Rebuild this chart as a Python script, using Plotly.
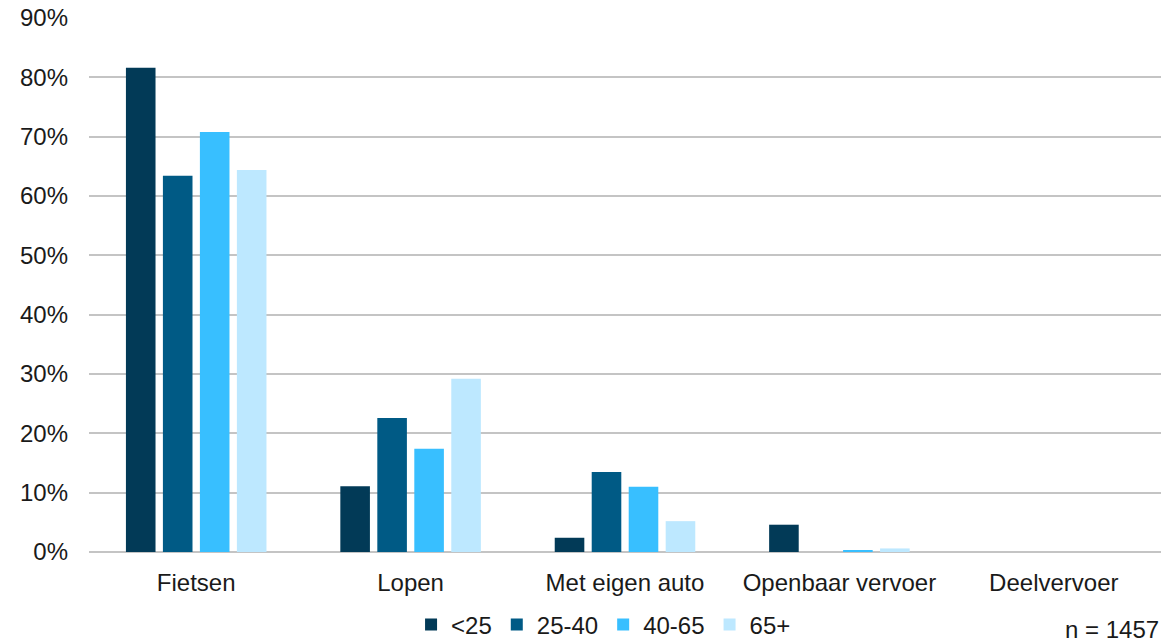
import plotly.graph_objects as go

categories = ["Fietsen", "Lopen", "Met eigen auto", "Openbaar vervoer", "Deelvervoer"]
age_groups = ["<25", "25-40", "40-65", "65+"]
share_lt25 = [0.816, 0.111, 0.024, 0.046, 0.0]
share_25_40 = [0.634, 0.226, 0.135, 0.0, 0.0]
share_40_65 = [0.708, 0.174, 0.110, 0.003, 0.0]
share_65plus = [0.644, 0.292, 0.052, 0.006, 0.0]
sample_note = "n = 1457"

COLORS = ["#023a57", "#005a85", "#38bfff", "#bde8ff"]
FONT = "Liberation Sans, Arial, sans-serif"

fig = go.Figure()
for name, values, color in zip(age_groups, [share_lt25, share_25_40, share_40_65, share_65plus], COLORS):
    fig.add_trace(go.Bar(name=name, x=categories, y=values, marker_color=color, marker_line_width=0))

fig.update_layout(
    barmode="group",
    bargap=0.31,
    bargroupgap=0.2,
    width=1171,
    height=643,
    margin=dict(l=89, r=10, t=18, b=91, autoexpand=False),
    plot_bgcolor="white",
    paper_bgcolor="white",
    font=dict(family=FONT, size=24, color="#1a1a1a"),
    legend=dict(
        orientation="h",
        x=0.48,
        xanchor="center",
        yref="container",
        y=0.028,
        yanchor="middle",
        font=dict(size=24),
        itemwidth=30,
        tracegroupgap=0,
    ),
    annotations=[
        dict(
            text=sample_note,
            xref="paper",
            yref="paper",
            x=1.0,
            xanchor="right",
            y=0,
            yshift=-77,
            yanchor="middle",
            showarrow=False,
            font=dict(size=24),
        )
    ],
)
fig.update_yaxes(
    range=[0, 0.9],
    dtick=0.1,
    tickformat=".0%",
    showgrid=True,
    gridcolor="#c4c4c4",
    gridwidth=1.5,
    zeroline=True,
    zerolinecolor="#c4c4c4",
    zerolinewidth=1.5,
    ticks="",
    ticklabelstandoff=20,
    automargin=False,
)
fig.update_xaxes(showline=False, ticks="", ticklabelstandoff=14, automargin=False)

fig.write_html(
    "out.html",
    config={"displayModeBar": False},
    post_script="document.body.style.margin='0';",
)
